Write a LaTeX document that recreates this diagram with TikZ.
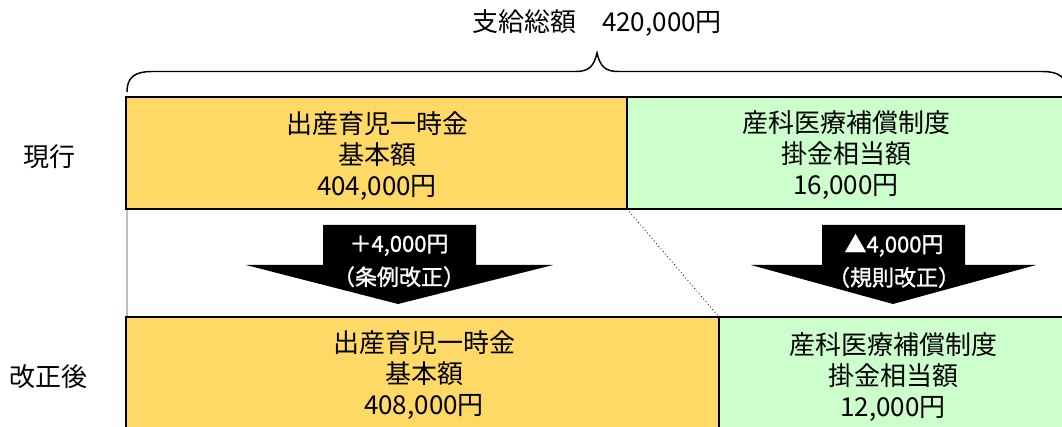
\documentclass[tikz,border=0pt]{standalone}
\usepackage{fontspec}
\newfontfamily\cjk{Noto Sans CJK JP}
\newfontfamily\cjkbold[FakeBold=1.2]{Noto Sans CJK JP}
\definecolor{yel}{HTML}{FFD966}
\definecolor{grn}{HTML}{CCFFCC}
\begin{document}
\begin{tikzpicture}[x=0.75pt,y=-0.75pt,
  lbl/.style={font=\cjk\fontsize{19.5}{23.25}\selectfont, align=center, inner sep=0pt},
  arrtxt/.style={font=\cjkbold\fontsize{16.5}{25}\selectfont, align=center, text=white, inner sep=0pt},
  outerline/.style={draw=black, line width=2pt},
  divline/.style={draw=black, line width=1.5pt},
  bigarrow/.style={fill=black},
  bracepath/.style={draw=black, line width=1.1pt}]
\useasboundingbox (0,0) rectangle (1062,427);
\clip (0,0) rectangle (1062,427);
% corners
\coordinate (tdivT) at (627,97);
\coordinate (tdivB) at (627,209);
\coordinate (bdivT) at (719,317);
\coordinate (bdivB) at (719,435);
% fills
\fill[yel] (126,97) rectangle (tdivB);
\fill[grn] (tdivT) rectangle (1070,209);
\fill[yel] (126,317) rectangle (bdivB);
\fill[grn] (bdivT) rectangle (1070,435);
% borders
\draw[outerline] (1070,97) -- (126,97) -- (126,209) -- (1070,209);
\draw[divline] (tdivT) -- (tdivB);
\draw[outerline] (126,435) -- (126,317) -- (1070,317);
\draw[divline] (bdivT) -- (bdivB);
\draw[black!25, line width=1.5pt] (127,210) -- (127,316);
\draw[dotted, line width=0.6pt] (tdivB) -- (bdivT);
% brace
\draw[bracepath] (127,92) .. controls (127,77) and (135,71.5) .. (152,71.5) -- (576,71.5)
  .. controls (589,71.5) and (594,66) .. (597,53)
  .. controls (600,66) and (605,71.5) .. (618,71.5) -- (1042,71.5)
  .. controls (1059,71.5) and (1067,77) .. (1067,92);
% arrows
\fill[bigarrow] (323,225) -- (476,225) -- (476,265) -- (553,265) -- (398,304) -- (246,265) -- (323,265) -- cycle;
\fill[bigarrow] (822,225) -- (965,225) -- (965,265) -- (1036,265) -- (893,304) -- (751,265) -- (822,265) -- cycle;
% texts
\node[lbl] (title) at (597,23) {支給総額　420,000円};
\node[lbl] (cur) at (49,157) {現行};
\node[lbl] (rev) at (48,377) {改正後};
\node[lbl] (a1) at (377,156) {出産育児一時金\\基本額\\404,000円};
\node[lbl] (b1) at (846,155) {産科医療補償制度\\掛金相当額\\16,000円};
\node[lbl] (a2) at (424,375) {出産育児一時金\\基本額\\408,000円};
\node[lbl] (b2) at (893,377) {産科医療補償制度\\掛金相当額\\12,000円};
\node[arrtxt] (t1) at (399,261) {＋4,000円\\（条例改正）};
\node[arrtxt] (t2) at (894,261) {▲4,000円\\（規則改正）};
\end{tikzpicture}
\end{document}
